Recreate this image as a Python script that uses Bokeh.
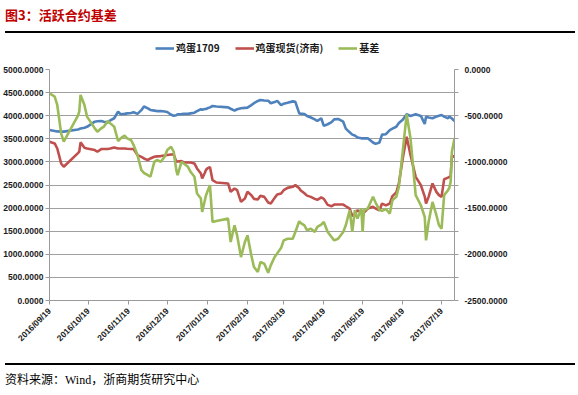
import pandas as pd
from math import pi
from bokeh.plotting import figure
from bokeh.models import (ColumnDataSource, Range1d, LinearAxis, FixedTicker,
                          DatetimeTickFormatter, PrintfTickFormatter, Legend,
                          LegendItem, Div)
from bokeh.layouts import column
from bokeh.embed import file_html
from bokeh.resources import INLINE

# ---------------- data ----------------
dates = [
    "2016-09-19", "2016-09-23", "2016-09-25", "2016-09-28", "2016-09-30",
    "2016-10-11", "2016-10-12", "2016-10-13", "2016-10-16", "2016-10-18",
    "2016-10-24", "2016-10-26", "2016-10-29", "2016-10-31", "2016-11-03",
    "2016-11-05", "2016-11-08", "2016-11-11", "2016-11-13", "2016-11-16",
    "2016-11-18", "2016-11-21", "2016-11-23", "2016-11-26", "2016-11-29",
    "2016-12-01", "2016-12-04", "2016-12-06", "2016-12-09", "2016-12-11",
    "2016-12-14", "2016-12-17", "2016-12-19", "2016-12-22", "2016-12-24",
    "2016-12-26", "2016-12-27", "2016-12-30", "2017-01-01", "2017-01-04",
    "2017-01-06", "2017-01-09", "2017-01-11", "2017-01-14", "2017-01-15",
    "2017-01-17", "2017-01-18", "2017-01-19", "2017-01-21", "2017-01-23",
    "2017-01-26", "2017-02-04", "2017-02-06", "2017-02-09", "2017-02-11",
    "2017-02-14", "2017-02-17", "2017-02-19",
    "2017-02-22", "2017-02-24", "2017-02-27", "2017-03-01", "2017-03-04",
    "2017-03-07", "2017-03-09", "2017-03-12", "2017-03-14", "2017-03-17",
    "2017-03-19", "2017-03-22", "2017-03-26", "2017-03-28", "2017-03-31",
    "2017-04-01", "2017-04-04", "2017-04-06", "2017-04-09", "2017-04-12",
    "2017-04-14", "2017-04-17", "2017-04-19", "2017-04-22", "2017-04-25",
    "2017-04-27", "2017-04-30", "2017-05-04", "2017-05-06", "2017-05-09",
    "2017-05-11", "2017-05-13", "2017-05-14", "2017-05-15", "2017-05-18",
    "2017-05-19", "2017-05-20", "2017-05-23", "2017-05-27", "2017-05-29",
    "2017-06-01", "2017-06-03", "2017-06-06", "2017-06-09", "2017-06-11",
    "2017-06-14", "2017-06-16", "2017-06-19", "2017-06-22", "2017-06-25",
    "2017-06-29", "2017-07-03", "2017-07-06", "2017-07-07", "2017-07-09",
    "2017-07-12", "2017-07-15", "2017-07-17", "2017-07-19", "2017-07-21",
    "2017-07-24", "2017-07-25", "2017-07-26", "2017-07-27", "2017-07-29",
]

egg_1709 = [
    3690, 3670, 3660, 3655, 3655, 3700, 3710, 3725, 3740, 3760,
    3870, 3880, 3885, 3870, 3855, 3900, 3945, 4090, 4030, 4040,
    4050, 4060, 4075, 4040, 4120, 4200, 4160, 4125, 4110, 4100,
    4100, 4090, 4080, 4020, 4000, 4010, 4030, 4035, 4040, 4040,
    4050, 4065, 4100, 4140, 4130, 4145, 4145, 4160, 4180, 4210,
    4200, 4180, 4150, 4110, 4140, 4160, 4170, 4175,
    4230, 4270, 4320, 4340, 4330, 4325, 4270, 4295, 4320, 4230,
    4260, 4280, 4310, 4300, 4050, 4045, 4035, 3995, 3960, 3920,
    3885, 3945, 3780, 3815, 3860, 3920, 3930, 3870, 3720, 3640,
    3590, 3570, 3550, 3530, 3510, 3510, 3510, 3510, 3420, 3390,
    3420, 3590, 3600, 3690, 3720, 3760, 3840, 3910, 4030, 3995,
    4030, 3995, 3820, 3980, 3960, 3945, 3980, 4000, 4015, 3980,
    3945, 3980, 3960, 3940, 3885,
]

spot_jinan = [
    3437, 3400, 3290, 2967, 2894, 3190, 3220, 3423, 3307, 3290,
    3256, 3220, 3278, 3278, 3278, 3290, 3314, 3290, 3290, 3290,
    3285, 3278, 3278, 3148, 3110, 3075, 3039, 3075, 3111, 3120,
    3126, 3140, 3148, 3160, 3162, 3003, 3010, 3017, 2988, 2988,
    2988, 2967, 2858, 2750, 2641, 2760, 2830, 2858, 2887, 2605,
    2554, 2533, 2352, 2424, 2388, 2135, 2207, 2352,
    2280, 2200, 2185, 2265, 2243, 2120, 2098, 2221, 2294, 2316,
    2388, 2438, 2460, 2497, 2430, 2388, 2320, 2270, 2243, 2200,
    2180, 2230, 2200, 2070, 2040, 2077, 2077, 2077, 2040, 1990,
    1830, 1870, 1917, 1950, 1920, 1809, 1900, 1990, 2030, 1990,
    1954, 2098, 2060, 2100, 2260, 2337, 2533, 3075, 3546, 3148,
    2677, 2497, 2250, 2098, 2243, 2533, 2352, 2280, 2243, 2626,
    2660, 2677, 2690, 3133, 3111,
]

basis = [
    -257, -293, -384, -691, -780, -499, -456, -275, -384, -510,
    -637, -673, -637, -619, -557, -583, -619, -774, -745, -716,
    -745, -763, -818, -926, -1089, -1120, -1143, -1161, -999, -980,
    -999, -944, -872, -836, -890, -1089, -1143, -999, -1020, -1053,
    -1107, -1161, -1342, -1397, -1541, -1420, -1360, -1324, -1252, -1650,
    -1640, -1614, -1867, -1686, -1795, -2030, -1867, -1795,
    -2012, -2138, -2192, -2084, -2102, -2200, -2120, -2030, -1990, -1930,
    -1849, -1831, -1831, -1758, -1643, -1660, -1686, -1740, -1722, -1758,
    -1704, -1680, -1650, -1758, -1813, -1849, -1831, -1758, -1686, -1523,
    -1758, -1523, -1570, -1614, -1505, -1758, -1523, -1505, -1378, -1440,
    -1520, -1530, -1510, -1559, -1415, -1378, -1270, -890, -485, -745,
    -1360, -1469, -1596, -1849, -1650, -1433, -1577, -1686, -1722, -1360,
    -1306, -1280, -1216, -890, -745,
]

x_tick_dates = [
    "2016-09-19", "2016-10-19", "2016-11-19", "2016-12-19", "2017-01-19",
    "2017-02-19", "2017-03-19", "2017-04-19", "2017-05-19", "2017-06-19",
    "2017-07-19",
]
x_start, x_end = "2016-09-19", "2017-07-29"
left_ticks = [0, 500, 1000, 1500, 2000, 2500, 3000, 3500, 4000, 4500, 5000]
right_ticks = [-2500, -2000, -1500, -1000, -500, 0]
right_minor_ticks = [-2250, -1750, -1250, -750, -250]

series_names = ["鸡蛋1709", "鸡蛋现货(济南)", "基差"]
series_colors = ["#4F81BD", "#C0504D", "#9BBB59"]
title_text = "图3：活跃合约基差"
source_text = "资料来源：Wind，浙商期货研究中心"


def ms(s):
    return pd.Timestamp(s).value / 1e6


src = ColumnDataSource(dict(date=pd.to_datetime(dates), fut=egg_1709,
                            spot=spot_jinan, basis=basis))

# ---------------- main chart ----------------
p = figure(width=570, height=300, x_axis_type="datetime",
           x_range=Range1d(ms(x_start), ms(x_end)),
           y_range=Range1d(0, 5000),
           output_backend="svg", toolbar_location=None,
           min_border_left=49, min_border_right=116,
           min_border_top=11, min_border_bottom=58)
p.extra_y_ranges = {"basis": Range1d(-2500, 0)}
p.outline_line_color = None
p.background_fill_color = "white"
p.border_fill_color = "white"

AX = "#9A9A9A"
LBL = "#1A1A1A"
FONT = "Liberation Sans"

xa = p.xaxis[0]
xa.ticker = FixedTicker(ticks=[ms(d) for d in x_tick_dates])
fmt = "%Y/%m/%d"
xa.formatter = DatetimeTickFormatter(
    microseconds=fmt, milliseconds=fmt, seconds=fmt, minsec=fmt,
    minutes=fmt, hourmin=fmt, hours=fmt, days=fmt, months=fmt, years=fmt)
xa.major_label_orientation = pi / 4
xa.minor_tick_line_color = None

ya = p.yaxis[0]
ya.ticker = FixedTicker(ticks=left_ticks)
ya.formatter = PrintfTickFormatter(format="%.4f")
ya.minor_tick_line_color = None

ra = LinearAxis(y_range_name="basis",
                ticker=FixedTicker(ticks=right_ticks, minor_ticks=right_minor_ticks),
                formatter=PrintfTickFormatter(format="%.4f"))
p.add_layout(ra, "right")

for ax in (xa, ya, ra):
    ax.axis_line_color = AX
    ax.major_tick_line_color = AX
    ax.major_tick_out = 4
    ax.major_tick_in = 0
    ax.major_label_text_font = FONT
    ax.major_label_text_font_style = "bold"
    ax.major_label_text_font_size = "8.5px"
    ax.major_label_text_color = LBL
    ax.major_label_standoff = 2
ra.minor_tick_line_color = AX
ra.minor_tick_out = 4
ra.minor_tick_in = 0
ra.major_label_standoff = 6
xa.major_label_standoff = 5

p.xgrid.grid_line_color = None
p.ygrid.ticker = FixedTicker(ticks=left_ticks)
p.ygrid.grid_line_color = "#A0A0A0"
p.ygrid.grid_line_width = 1

p.line("date", "fut", source=src, color=series_colors[0], line_width=2.6)
p.line("date", "spot", source=src, color=series_colors[1], line_width=2.6)
p.line("date", "basis", source=src, y_range_name="basis",
       color=series_colors[2], line_width=2.6)

# ---------------- legend strip (same line styles, no visible data) ----------------
lg = figure(width=570, height=20, x_range=Range1d(0, 1), y_range=Range1d(0, 1),
            output_backend="svg", toolbar_location=None,
            x_axis_location=None, y_axis_location=None, min_border=0)
lg.grid.visible = False
lg.outline_line_color = None
lg.background_fill_color = "white"
lg.border_fill_color = "white"
nan = float("nan")
empty = ColumnDataSource(dict(x=[nan], y=[nan]))
items = []
for name, col in zip(series_names, series_colors):
    r = lg.line("x", "y", source=empty, color=col, line_width=2.6)
    items.append(LegendItem(label=name, renderers=[r]))
legend = Legend(items=items, orientation="horizontal", location=(106, 3),
                border_line_color=None, background_fill_alpha=0,
                label_text_font="Noto Sans CJK SC",
                label_text_font_style="bold", label_text_font_size="10px",
                label_text_color=LBL,
                glyph_width=19, glyph_height=10, label_standoff=2,
                label_height=12, spacing=15, padding=2, margin=0)
lg.add_layout(legend)

title_div = Div(text=title_text, width=570, height=28,
                styles={"font-family": "'Noto Sans CJK SC', sans-serif",
                        "font-weight": "bold", "font-size": "13px",
                        "color": "#C00000", "line-height": "20px",
                        "box-sizing": "border-box",
                        "border-bottom": "2px solid #000000"})
source_div = Div(text=source_text, width=570, height=31,
                 styles={"font-family": "'Liberation Serif', 'Noto Sans CJK SC', serif",
                         "font-size": "12px", "color": "#000000",
                         "line-height": "31px",
                         "box-sizing": "border-box",
                         "border-top": "2px solid #000000"})

layout = column(title_div, lg, p, source_div, spacing=0)
open("out.html", "w").write(file_html(layout, INLINE))
